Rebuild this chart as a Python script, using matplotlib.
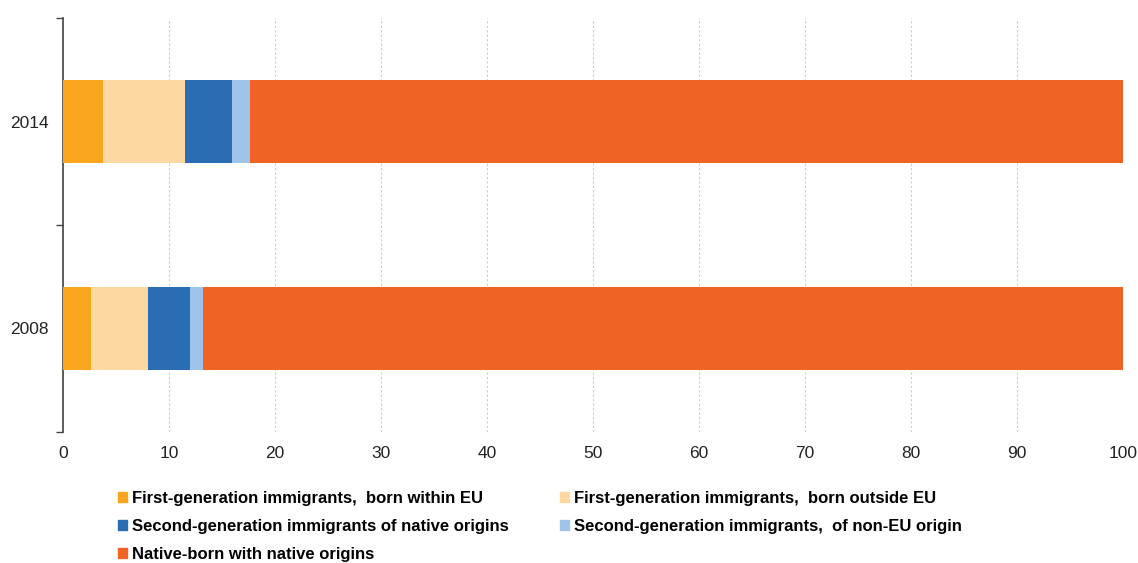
import numpy as np
import matplotlib.pyplot as plt
from matplotlib.patches import Patch

plt.rcParams['font.family'] = ['Liberation Sans', 'DejaVu Sans']

years = ['2008', '2014']
labels = ['First-generation immigrants,  born within EU',
          'First-generation immigrants,  born outside EU',
          'Second-generation immigrants of native origins',
          'Second-generation immigrants,  of non-EU origin',
          'Native-born with native origins']
# shares per group, rows follow years
first_eu = [2.6, 3.8]
first_non_eu = [5.45, 7.7]
second_native = [3.95, 4.4]
second_non_eu = [1.2, 1.7]
native = [86.8, 82.4]
colors = ['#f9a51d', '#fdd9a1', '#2a6db2', '#9fc4e9', '#ef6424']

series = [first_eu, first_non_eu, second_native, second_non_eu, native]

fig = plt.figure(figsize=(11.38, 5.63), dpi=100)
ax = fig.add_axes([63/1138, 1-432/563, 1060/1138, 414/563])

pos = np.arange(len(years))
left = np.zeros(len(years))
for vals, c in zip(series, colors):
    ax.barh(pos, vals, left=left, height=0.4, color=c, zorder=3)
    left += np.array(vals)

ax.set_xlim(0, 100)
ax.set_ylim(-0.5, 1.5)
ax.set_xticks(np.arange(0, 101, 10))
ax.xaxis.grid(True, linestyle=(0, (2, 2)), color='#cccccc', linewidth=0.8, zorder=0)
ax.tick_params(axis='x', length=0, labelsize=12.5, pad=10, colors='#222222')

ax.set_yticks([-0.5, 0.5, 1.5])
ax.set_yticklabels([])
ax.set_yticks(pos, minor=True)
ax.set_yticklabels(years, minor=True)
ax.tick_params(axis='y', which='major', length=5, width=1, color='#444444')
ax.tick_params(axis='y', which='minor', length=0, labelsize=12.5, pad=10, colors='#222222')

for s in ['top', 'right', 'bottom']:
    ax.spines[s].set_visible(False)
ax.spines['left'].set_color('#444444')
ax.spines['left'].set_linewidth(1.2)

# row-major legend order
order = [0, 2, 4, 1, 3]
handles = [Patch(color=colors[i]) for i in order]
fig.legend(handles, [labels[i] for i in order], ncol=2, loc='upper left',
           bbox_to_anchor=(111/1138, 1-484/563),
           frameon=False, prop={'size': 12, 'weight': 'bold'},
           handlelength=0.55, handleheight=0.55, handletextpad=0.3,
           columnspacing=3.1, labelspacing=0.8, borderaxespad=0)

fig.savefig('out.png', dpi=100)
